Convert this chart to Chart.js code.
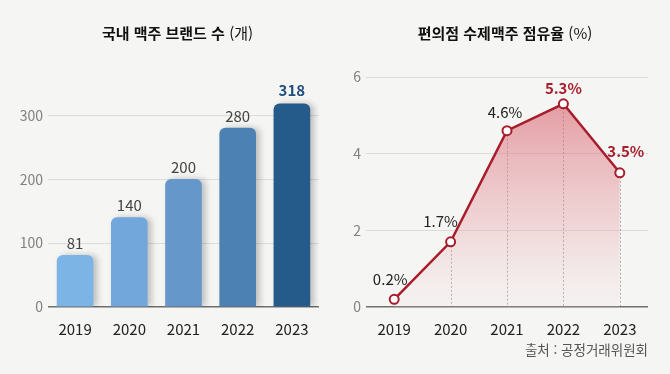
<!DOCTYPE html>
<html lang="ko">
<head>
<meta charset="utf-8">
<script src="https://cdn.jsdelivr.net/npm/chart.js@4"></script>
<style>
  html, body { margin: 0; padding: 0; background: #f5f5f3; }
  #wrap { position: relative; width: 670px; height: 374px; overflow: hidden; font-family: "Noto Sans CJK KR", "Noto Sans", sans-serif; }
  canvas { position: absolute; top: 0; }
  .title { position: absolute; top: 22px; font-size: 15px; font-weight: 700; color: #111; text-align: center; white-space: nowrap; }
  .title span { font-weight: 400; }
  #source { position: absolute; right: 22px; top: 339px; font-size: 13.5px; color: #555; }
</style>
</head>
<body>
<div id="wrap">
  <canvas id="brand_chart" width="335" height="374" style="left:0"></canvas>
  <canvas id="share_chart" width="335" height="374" style="left:335px"></canvas>
  <div class="title" style="left:0;width:355px">국내 맥주 브랜드 수 <span>(개)</span></div>
  <div class="title" style="left:335px;width:340px">편의점 수제맥주 점유율 <span>(%)</span></div>
  <div id="source">출처 : 공정거래위원회</div>
</div>
<script>
/////////////////////////////////// DATA ///////////////////////////////////
const years = ['2019', '2020', '2021', '2022', '2023'];
const brandCounts = [81, 140, 200, 280, 318];
const craftShare = [0.2, 1.7, 4.6, 5.3, 3.5];
const brandTicks = [0, 100, 200, 300];
const shareTicks = [0, 2, 4, 6];

/////////////////////////////////// STYLES ///////////////////////////////////
const barColors = ['#7cb4e6', '#72a7dc', '#6597cb', '#4c82b3', '#245b8b'];
const lineRed = '#a81d2c';
const numFont = '"Noto Sans CJK KR", "Noto Sans", sans-serif';

// label colour / weight / offsets for the line chart
const shareLabelStyle = [
    { color: '#222', bold: false, dx: -4, dy: -20 },
    { color: '#222', bold: false, dx: -10, dy: -21 },
    { color: '#222', bold: false, dx: -2, dy: -18 },
    { color: lineRed, bold: true, dx: 0, dy: -16 },
    { color: lineRed, bold: true, dx: 6, dy: -22 }
];

/////////////////////////////////// PLUGINS ///////////////////////////////////
const barShadow = {
    id: 'barShadow',
    beforeDatasetsDraw(chart) {
        const ctx = chart.ctx;
        ctx.save();
        ctx.shadowColor = 'rgba(0,0,0,0.22)';
        ctx.shadowBlur = 6;
        ctx.shadowOffsetX = 4;
        ctx.shadowOffsetY = 0;
    },
    afterDatasetsDraw(chart) {
        chart.ctx.restore();
    }
};

const barLabels = {
    id: 'barLabels',
    afterDraw(chart) {
        const ctx = chart.ctx;
        const meta = chart.getDatasetMeta(0);
        ctx.save();
        ctx.textAlign = 'center';
        ctx.textBaseline = 'middle';
        meta.data.forEach((bar, i) => {
            const last = i === meta.data.length - 1;
            ctx.font = (last ? 'bold ' : '') + '15px ' + numFont;
            ctx.fillStyle = last ? '#1f4f7c' : '#444';
            ctx.fillText(String(brandCounts[i]), bar.x, bar.y - (last ? 14 : 12));
        });
        ctx.restore();
    }
};

const dropLines = {
    id: 'dropLines',
    beforeDatasetsDraw(chart) {
        const ctx = chart.ctx;
        const meta = chart.getDatasetMeta(0);
        const bottom = chart.chartArea.bottom;
        ctx.save();
        ctx.strokeStyle = 'rgba(110,110,110,0.55)';
        ctx.lineWidth = 1;
        ctx.setLineDash([2, 2]);
        meta.data.forEach(pt => {
            ctx.beginPath();
            ctx.moveTo(Math.round(pt.x) + 0.5, pt.y);
            ctx.lineTo(Math.round(pt.x) + 0.5, bottom);
            ctx.stroke();
        });
        ctx.restore();
    }
};

const shareLabels = {
    id: 'shareLabels',
    afterDraw(chart) {
        const ctx = chart.ctx;
        const meta = chart.getDatasetMeta(0);
        ctx.save();
        ctx.textAlign = 'center';
        ctx.textBaseline = 'middle';
        meta.data.forEach((pt, i) => {
            const s = shareLabelStyle[i];
            ctx.font = (s.bold ? 'bold ' : '') + '15px ' + numFont;
            ctx.fillStyle = s.color;
            ctx.fillText(craftShare[i] + '%', pt.x + s.dx, pt.y + s.dy);
        });
        ctx.restore();
    }
};

/////////////////////////////////// CHARTS ///////////////////////////////////
function keepTicks(list) {
    return axis => { axis.ticks = list.map(v => ({ value: v })); };
}

function gridColor(c) {
    return c.tick && c.tick.value === 0 ? '#6f6f6f' : '#dcdcdc';
}

const brand_chart = new Chart(document.getElementById('brand_chart'), {
    type: 'bar',
    data: {
        labels: years,
        datasets: [{
            data: brandCounts,
            backgroundColor: barColors,
            borderRadius: { topLeft: 6, topRight: 6, bottomLeft: 0, bottomRight: 0 },
            borderSkipped: false,
            barThickness: 36
        }]
    },
    options: {
        responsive: false,
        animation: false,
        layout: { padding: { top: 77, right: 16, left: 0, bottom: 0 } },
        plugins: { legend: { display: false }, tooltip: { enabled: false } },
        scales: {
            x: {
                grid: { display: false },
                border: { display: false },
                ticks: { color: '#222', font: { family: numFont, size: 15 }, padding: 5 },
                afterFit: s => { s.height = 67; }
            },
            y: {
                min: 0,
                max: 360,
                afterBuildTicks: keepTicks(brandTicks),
                grid: { color: gridColor, lineWidth: c => (c.tick && c.tick.value === 0 ? 1.5 : 1), drawTicks: false },
                border: { display: false },
                ticks: { color: '#808080', font: { family: numFont, size: 14 }, padding: 5 },
                afterFit: s => { s.width = 48; }
            }
        }
    },
    plugins: [barShadow, barLabels]
});

const share_chart = new Chart(document.getElementById('share_chart'), {
    type: 'line',
    data: {
        labels: years,
        datasets: [{
            data: craftShare,
            borderColor: lineRed,
            borderWidth: 2.5,
            fill: 'origin',
            backgroundColor: ctx => {
                const area = ctx.chart.chartArea;
                if (!area) return 'rgba(220,110,120,0.3)';
                const g = ctx.chart.ctx.createLinearGradient(0, area.top + 25, 0, area.bottom);
                g.addColorStop(0, 'rgba(215,95,108,0.6)');
                g.addColorStop(0.6, 'rgba(230,150,158,0.33)');
                g.addColorStop(1, 'rgba(240,225,225,0.15)');
                return g;
            },
            tension: 0,
            pointRadius: 4.5,
            pointBackgroundColor: '#fff',
            pointBorderColor: lineRed,
            pointBorderWidth: 2
        }]
    },
    options: {
        responsive: false,
        animation: false,
        layout: { padding: { top: 77, right: 22, left: 0, bottom: 0 } },
        plugins: { legend: { display: false }, tooltip: { enabled: false } },
        scales: {
            x: {
                offset: true,
                grid: { display: false },
                border: { display: false },
                ticks: { color: '#222', font: { family: numFont, size: 15 }, padding: 5 },
                afterFit: s => { s.height = 67; }
            },
            y: {
                min: 0,
                max: 6,
                afterBuildTicks: keepTicks(shareTicks),
                grid: { color: gridColor, lineWidth: c => (c.tick && c.tick.value === 0 ? 1.5 : 1), drawTicks: false },
                border: { display: false },
                ticks: { color: '#808080', font: { family: numFont, size: 14 }, padding: 5 },
                afterFit: s => { s.width = 31; }
            }
        }
    },
    plugins: [dropLines, shareLabels]
});
</script>
</body>
</html>
